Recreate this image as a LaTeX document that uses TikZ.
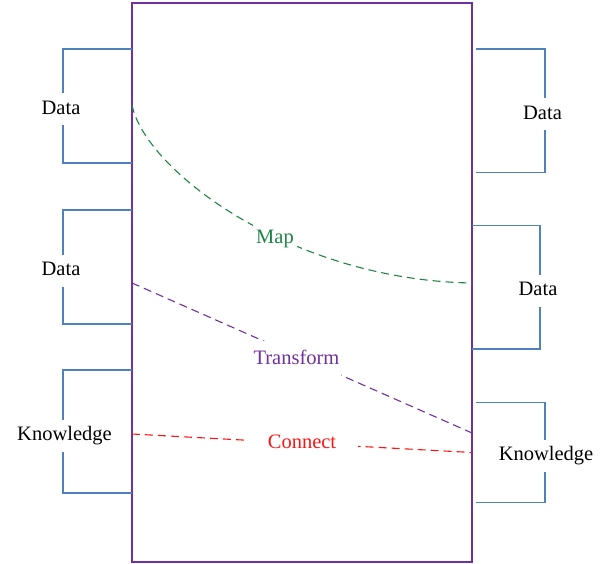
\documentclass[tikz,border=0pt]{standalone}
\usepackage{fontspec}
\setmainfont{Liberation Serif}
\definecolor{boxpurple}{RGB}{112,48,160}
\definecolor{brblue}{RGB}{79,129,189}
\definecolor{mapgreen}{RGB}{30,132,70}
\definecolor{conred}{RGB}{255,20,20}
\begin{document}
\begin{tikzpicture}[x=1pt,y=-1pt,
  every node/.style={font=\fontsize{20.5}{24}\selectfont},
  bracket/.style={draw=brblue,line width=1.2pt},
  lab/.style={fill=white,text height=14pt,text depth=4pt,inner xsep=1pt,inner ysep=7pt},
  flow/.style={line width=1.1pt,dash pattern=on 8pt off 5pt},
  flowlab/.style={fill=white,text height=14pt,text depth=4pt}]
\useasboundingbox (0,0) rectangle (607,564);
% main box
\node[draw=boxpurple,line width=1.2pt,minimum width=340pt,minimum height=559pt,inner sep=0pt] (box) at (302,282.5) {};
% left brackets
\draw[bracket] (132,49) -- (63,49) -- (63,163) -- (132,163);
\node[lab] (ld1) at (61,109.5) {Data};
\draw[bracket] (132,210) -- (63,210) -- (63,324) -- (132,324);
\node[lab] (ld2) at (61,270.5) {Data};
\draw[bracket] (132,370) -- (63,370) -- (63,493) -- (132,493);
\node[lab] (lk) at (64.5,435.5) {Knowledge};
% right brackets
\draw[bracket] (476,49) -- (545,49) -- (545,172.5) -- (476,172.5);
\node[lab] (rd1) at (542.5,114.5) {Data};
\draw[bracket] (472,225.5) -- (540,225.5) -- (540,349) -- (472,349);
\node[lab] (rd2) at (538,290.5) {Data};
\draw[bracket] (476,402.5) -- (545,402.5) -- (545,502.5) -- (476,502.5);
\node[lab] (rk) at (546,455.5) {Knowledge};
% flows
\coordinate (m1) at (132,105);
\coordinate (m2) at (472,283);
\coordinate (t1) at (132,283);
\coordinate (t2) at (472,433);
\coordinate (c1) at (132,434);
\coordinate (c2) at (472,452.5);
\draw[flow,draw=mapgreen] (m1) .. controls (145,170) and (290,280) .. (m2);
\draw[flow,draw=boxpurple] (t1) -- (t2);
\draw[flow,draw=conred] (c1) -- (c2);
\node[flowlab,text=mapgreen,inner xsep=3pt,inner ysep=6pt] (map) at (275,238) {Map};
\node[flowlab,text=boxpurple,inner xsep=2pt,inner ysep=10pt] (tr) at (296.5,359.5) {Transform};
\node[flowlab,text=conred,inner xsep=22pt,inner ysep=3pt] (con) at (302,443.5) {Connect};
\end{tikzpicture}
\end{document}
